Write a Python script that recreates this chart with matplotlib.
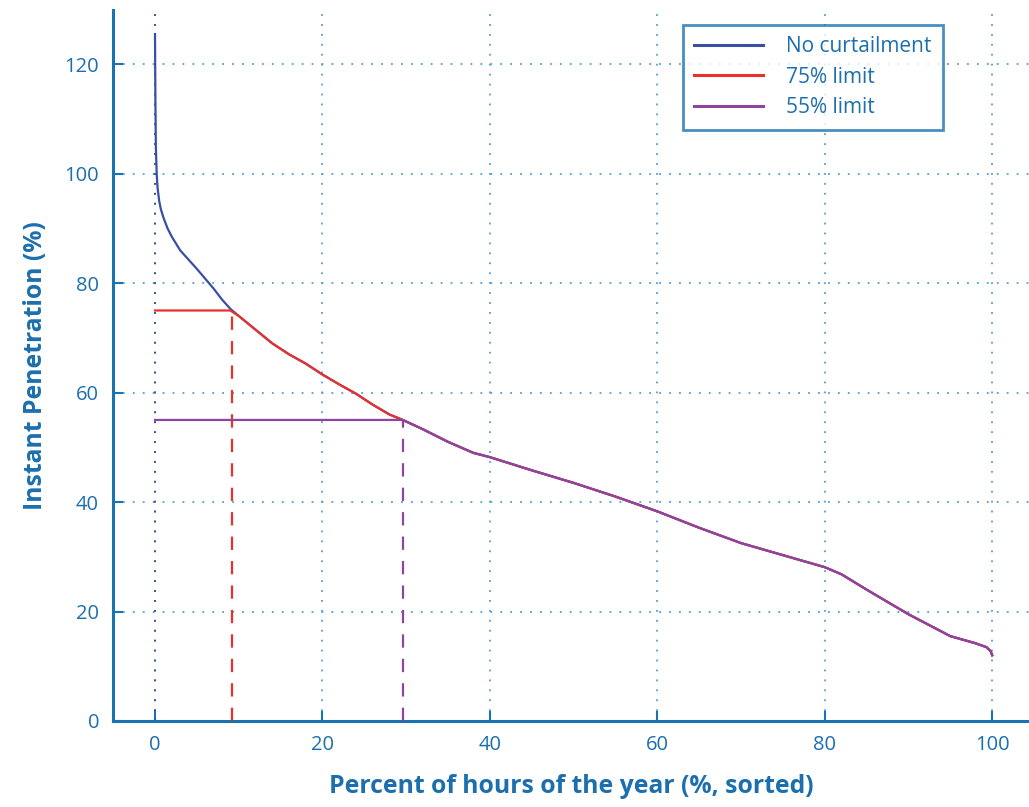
# Duration curve of instant penetration with curtailment limits
import matplotlib.pyplot as plt
import numpy as np

# Sorted hours (% of year) and instant penetration (%)
hours = [0, 0.02, 0.05, 0.1, 0.2, 0.3, 0.5, 0.7, 1, 1.5, 2, 3, 4, 5, 6, 7, 8, 9,
         10, 12, 14, 16, 18, 20, 22, 24, 26, 28, 29.6, 32, 35, 38, 40, 45, 50,
         55, 60, 65, 70, 75, 80, 82, 85, 90, 95, 98, 99.3, 99.8, 100]
penetration = [125.5, 120, 113, 105, 100, 97.5, 95, 93.5, 92, 90, 88.5, 86, 84.3,
               82.6, 80.8, 79, 77, 75.3, 74, 71.5, 69, 67, 65.3, 63.3, 61.5, 59.8,
               57.8, 56, 55, 53.3, 51, 49, 48.2, 45.8, 43.5, 41, 38.3, 35.3, 32.5,
               30.3, 28.1, 26.8, 24, 19.5, 15.5, 14.2, 13.5, 12.8, 12]
limits = [75, 55]
labels = ['No curtailment', '75% limit', '55% limit']
colors = ['#3a4fa3', '#e8302c', '#8f449f']

axis_col = '#1a72b3'
text_col = '#1c6fae'
grid_col = '#4f9fd2'

plt.rcParams['font.family'] = ['Open Sans', 'DejaVu Sans']

fig = plt.figure(figsize=(10.29, 8.07), dpi=100)
ax = fig.add_axes([0.1098, 0.1066, 0.8902, 0.8810])

x = np.array(hours)
y = np.array(penetration)

# Original curve, then curtailed curves drawn over it
ax.plot(x, y, color=colors[0], lw=1.6, label=labels[0], zorder=3)
for lim, lab, col in zip(limits, labels[1:], colors[1:]):
    ax.plot(x, np.minimum(y, lim), color=col, lw=1.6, label=lab, zorder=4)
    # hour where the curve crosses the limit
    xc = np.interp(lim, y[::-1], x[::-1])
    ax.plot([xc, xc], [0, lim], color=col, lw=1.6, ls=(0, (6, 5)), zorder=4)

ax.set_xlim(-5.02, 104.4)
ax.set_ylim(0, 129.9)
ax.set_xticks(np.arange(0, 101, 20))
ax.set_yticks(np.arange(0, 121, 20))

ax.grid(True, color=grid_col, ls=(0, (1, 4.5)), lw=1.3)
ax.axvline(0, color='#2b4f8a', ls=(0, (1, 4.5)), lw=1.3, zorder=2)

for s in ['top', 'right']:
    ax.spines[s].set_visible(False)
for s in ['left', 'bottom']:
    ax.spines[s].set_color(axis_col)
    ax.spines[s].set_linewidth(2.2)

ax.tick_params(direction='in', length=7, width=1.5, color=axis_col,
               labelcolor=text_col, labelsize=14.5, pad=10)

ax.set_xlabel('Percent of hours of the year (%, sorted)', fontsize=17.8,
              fontweight='bold', color=text_col, labelpad=14)
ax.set_ylabel('Instant Penetration (%)', fontsize=17.8, fontweight='bold',
              color=text_col, labelpad=12)

leg = ax.legend(loc='upper right', bbox_to_anchor=(0.906, 0.979), fontsize=15,
                frameon=True, fancybox=False, handlelength=3.3, handletextpad=1.1,
                borderpad=0.55, labelspacing=0.45, labelcolor=text_col,
                borderaxespad=0)
leg.get_frame().set_edgecolor(axis_col)
leg.get_frame().set_linewidth(2)
for h in leg.get_lines():
    h.set_linewidth(2.2)

plt.savefig('out.png', dpi=100)
